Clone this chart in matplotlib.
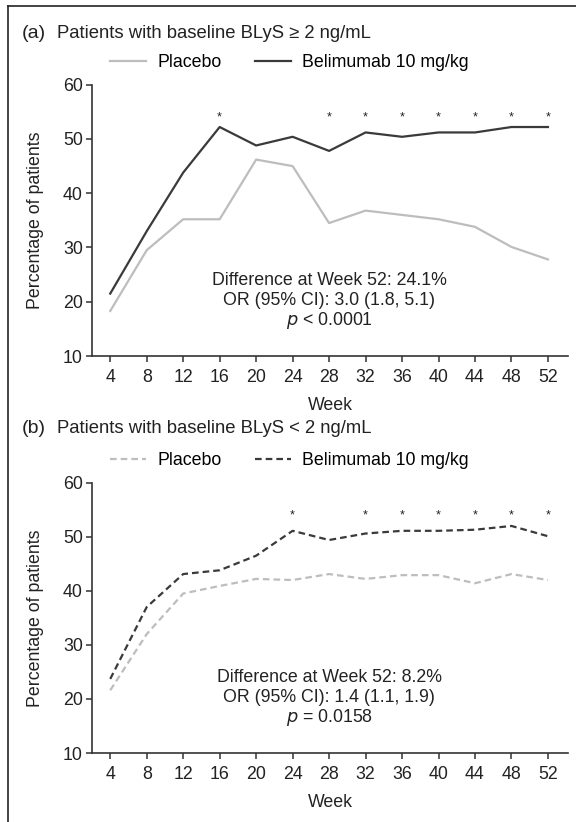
import matplotlib
matplotlib.use("Agg")
import matplotlib.pyplot as plt
from matplotlib.lines import Line2D

plt.rcParams['font.family'] = ['Liberation Sans', 'DejaVu Sans']

weeks = [4, 8, 12, 16, 20, 24, 28, 32, 36, 40, 44, 48, 52]

# (a) baseline BLyS >= 2 ng/mL
bel_a = [21.5, 33.0, 43.8, 52.2, 48.8, 50.4, 47.8, 51.2, 50.4, 51.2, 51.2, 52.2, 52.2]
pla_a = [18.3, 29.5, 35.2, 35.2, 46.2, 45.0, 34.5, 36.8, 36.0, 35.2, 33.8, 30.1, 27.8]
star_a = [16, 28, 32, 36, 40, 44, 48, 52]

# (b) baseline BLyS < 2 ng/mL
bel_b = [23.7, 37.0, 43.1, 43.8, 46.5, 51.1, 49.4, 50.6, 51.1, 51.1, 51.3, 52.0, 50.1]
pla_b = [21.6, 32.0, 39.5, 40.9, 42.2, 42.0, 43.1, 42.2, 42.9, 42.9, 41.4, 43.1, 42.0]
star_b = [24, 32, 36, 40, 44, 48, 52]

titles = ["Patients with baseline BLyS \u2265 2 ng/mL",
          "Patients with baseline BLyS < 2 ng/mL"]
stats_a = ["Difference at Week 52: 24.1%", "OR (95% CI): 3.0 (1.8, 5.1)",
           "$p$ < 0.0001"]
stats_b = ["Difference at Week 52: 8.2%", "OR (95% CI): 1.4 (1.1, 1.9)",
           "$p$ = 0.0158"]

dark = "#3a3a3a"
light = "#bdbdbd"
axc = "#333333"
txt = "#222222"
fs = 12.8

fig = plt.figure(figsize=(5.76, 8.22), dpi=100)

# frame lines (top and left only)
fig.add_artist(Line2D([8/576, 1], [1-6/822, 1-6/822], color=txt, lw=1.2))
fig.add_artist(Line2D([8/576, 8/576], [0, 1-6/822], color=txt, lw=1.2))

W, H = 576, 822
panels = [
    ("(a)", titles[0], bel_a, pla_a, star_a, stats_a, "-", 84.7, 356, 33),
    ("(b)", titles[1], bel_b, pla_b, star_b, stats_b, (0, (3, 1.8)), 482.7, 753, 428),
]

for lab, tit, bel, pla, stars, stats, ls, ytop, ybot, ytit in panels:
    ax = fig.add_axes([92/W, 1-ybot/H, (568-92)/W, (ybot-ytop)/H])
    ax.plot(weeks, pla, color=light, lw=1.6, ls=ls, label="Placebo")
    ax.plot(weeks, bel, color=dark, lw=1.6, ls=ls, label="Belimumab 10 mg/kg")
    for w in stars:
        ax.text(w, 54.0, "*", ha="center", va="center", fontsize=9, color=txt)
    ax.set_xlim(2.0, 54.2)
    ax.set_ylim(10, 60)
    ax.set_xticks(weeks)
    ax.set_yticks([10, 20, 30, 40, 50, 60])
    for s in ["top", "right"]:
        ax.spines[s].set_visible(False)
    for s in ["left", "bottom"]:
        ax.spines[s].set_color(axc)
        ax.spines[s].set_linewidth(1.2)
    ax.tick_params(axis="both", direction="out", length=4.5, width=1.1,
                   color=axc, labelsize=fs, labelcolor=txt)
    ax.tick_params(axis="x", pad=5)
    ax.tick_params(axis="y", pad=2)
    ax.set_xlabel("Week", fontsize=fs, color=txt, labelpad=8)
    ax.set_ylabel("Percentage of patients", fontsize=fs, color=txt, labelpad=14)
    ax.legend(loc="center", bbox_to_anchor=(0.415, 1 + 22/(ybot-ytop)), ncol=2,
              frameon=False, fontsize=fs, handlelength=2.0, handletextpad=0.65,
              columnspacing=1.9, borderaxespad=0)
    for i, s in enumerate(stats):
        ax.text(28, 23.9 - i*3.7, s, ha="center", va="center", fontsize=fs,
                color=txt)
    fig.text(22/W, 1-ytit/H, lab, fontsize=14, va="center", ha="left", color=txt)
    fig.text(57/W, 1-ytit/H, tit, fontsize=13.3, va="center", ha="left", color=txt)

fig.savefig("out.png", dpi=100)
